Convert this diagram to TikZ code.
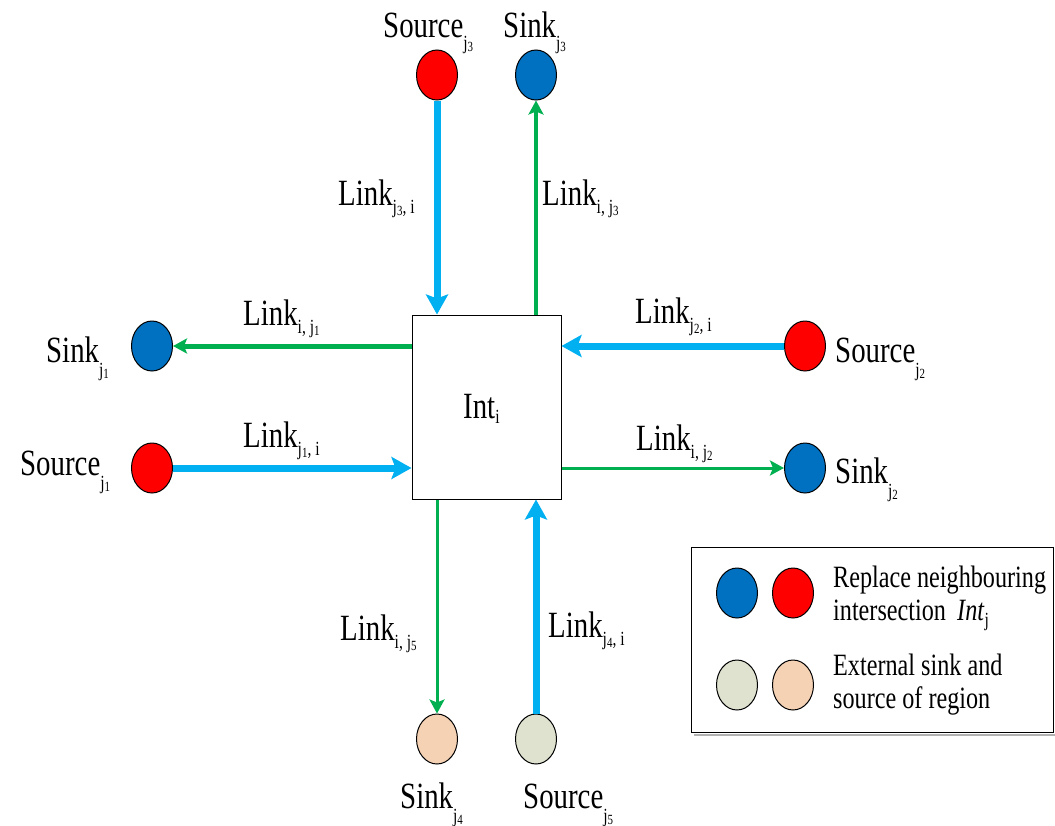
\documentclass[tikz,border=0pt]{standalone}
\usepackage{fontspec}
\setmainfont{Liberation Serif}[FakeStretch=0.78]
\usetikzlibrary{arrows.meta,shapes.geometric}
\definecolor{cblue}{HTML}{0070C0}
\definecolor{cred}{HTML}{FF0000}
\definecolor{ccyan}{HTML}{00B0F0}
\definecolor{cgreen}{HTML}{00B050}
\definecolor{cpeach}{HTML}{F6D2B4}
\definecolor{cgrey}{HTML}{DEE2CE}
\newcommand{\sbx}[2][10pt]{\raisebox{-#1}{\fontsize{20}{20}\selectfont #2}}
\newcommand{\jn}[1]{j\raisebox{-2pt}{\fontsize{14}{14}\selectfont #1}}
\tikzset{
  dot/.style={ellipse, draw=black, line width=1pt, minimum width=41pt, minimum height=50pt, inner sep=0},
  lbl/.style={anchor=base west, inner sep=0, font=\fontsize{37}{40}\selectfont},
  leglbl/.style={anchor=base west, inner sep=0, font=\fontsize{31}{30}\selectfont},
  barrow/.style={ccyan, line width=7pt, -{Stealth[length=20pt,width=22pt,inset=4pt]}},
  garrow/.style={cgreen, -{Stealth[length=14pt,width=15pt,inset=3pt]}}
}
\begin{document}
\begin{tikzpicture}[x=1pt,y=-1pt]
\useasboundingbox (0,0) rectangle (1055,825);
% central box
\node[draw, line width=1pt, minimum width=149pt, minimum height=184pt, inner sep=0] (int) at (486.5,407) {};
\node[lbl] (intlbl) at (463,418) {Int\sbx[5pt]{i}};
% circles
\node[dot, fill=cred] (srcj3) at (437,75) {};
\node[dot, fill=cblue] (sinkj3) at (536,75) {};
\node[dot, fill=cblue] (sinkj1) at (152,346) {};
\node[dot, fill=cred] (srcj1) at (152,468) {};
\node[dot, fill=cred] (srcj2) at (805,346) {};
\node[dot, fill=cblue] (sinkj2) at (805,468) {};
\node[dot, fill=cpeach] (sinkj4) at (437,739) {};
\node[dot, fill=cgrey] (srcj5) at (536,739) {};
% node labels
\node[lbl] (tsrcj3) at (383,37) {Source\sbx[12pt]{\jn{3}}};
\node[lbl] (tsinkj3) at (503,37) {Sink\sbx[12pt]{\jn{3}}};
\node[lbl] (tsinkj1) at (46,362) {Sink\sbx[14pt]{\jn{1}}};
\node[lbl] (tsrcj1) at (20,475) {Source\sbx[14pt]{\jn{1}}};
\node[lbl] (tsrcj2) at (835,362) {Source\sbx[14pt]{\jn{2}}};
\node[lbl] (tsinkj2) at (835,483) {Sink\sbx[14pt]{\jn{2}}};
\node[lbl] (tsinkj4) at (400,808) {Sink\sbx[14pt]{\jn{4}}};
\node[lbl] (tsrcj5) at (523,808) {Source\sbx[14pt]{\jn{5}}};
% connectors
\draw[barrow] (srcj3) -- (srcj3 |- int.north);
\draw[garrow, line width=4pt] (sinkj3 |- int.north) -- (sinkj3);
\draw[garrow, line width=5pt] (sinkj1 -| int.west) -- (sinkj1);
\draw[barrow] (srcj1) -- (srcj1 -| int.west);
\draw[barrow] (srcj2) -- (srcj2 -| int.east);
\draw[garrow, line width=3pt] (sinkj2 -| int.east) -- (sinkj2);
\draw[garrow, line width=3pt] (sinkj4 |- int.south) -- (sinkj4);
\draw[barrow] (srcj5) -- (srcj5 |- int.south);
% link labels
\node[lbl] (l1) at (338,205) {Link\sbx[8pt]{\jn{3}, i}};
\node[lbl] (l2) at (542,205) {Link\sbx[8pt]{i, \jn{3}}};
\node[lbl] (l3) at (243,325) {Link\sbx[8pt]{i, \jn{1}}};
\node[lbl] (l4) at (243,447) {Link\sbx[8pt]{\jn{1}, i}};
\node[lbl] (l5) at (635,323) {Link\sbx[8pt]{\jn{2}, i}};
\node[lbl] (l6) at (636,450) {Link\sbx[8pt]{i, \jn{2}}};
\node[lbl] (l7) at (340,640) {Link\sbx[8pt]{i, \jn{5}}};
\node[lbl] (l8) at (548,637) {Link\sbx[8pt]{\jn{4}, i}};
% legend
\node[draw, line width=1pt, minimum width=362pt, minimum height=185pt, inner sep=0, anchor=north west] (leg) at (691,547) {};
\draw[black!30, line width=2pt] ([xshift=3pt,yshift=-2pt]leg.south west) -- ([xshift=3pt,yshift=-2pt]leg.south east);
\node[dot, fill=cblue] (lb) at (737,593) {};
\node[dot, fill=cred] (lr) at (793,593) {};
\node[dot, fill=cgrey] (lg) at (737,685) {};
\node[dot, fill=cpeach] (lp) at (793,685) {};
\node[leglbl] (t1) at (833,587) {Replace neighbouring};
\node[leglbl] (t2) at (833,620) {intersection\ \,\textit{Int}\sbx[6pt]{j}};
\node[leglbl] (t3) at (833,675) {External sink and};
\node[leglbl] (t4) at (833,708) {source of region};
\end{tikzpicture}
\end{document}
